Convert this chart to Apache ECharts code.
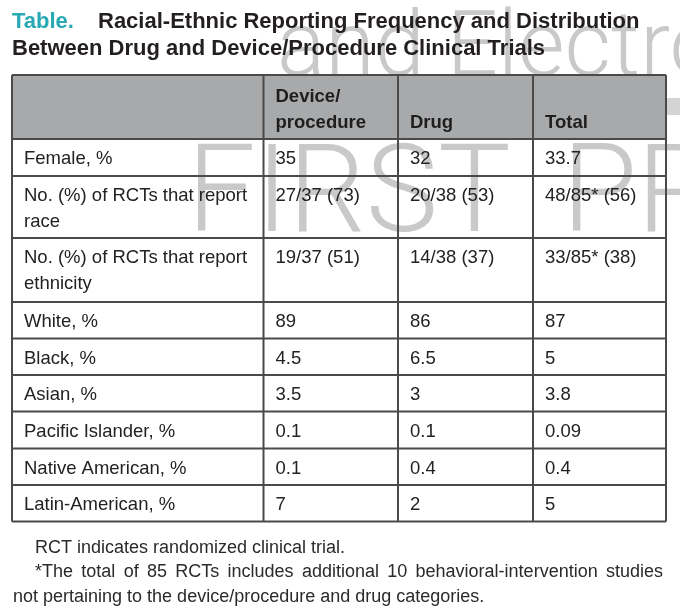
<!DOCTYPE html>
<html>
<head>
<meta charset="utf-8">
<title>Racial-Ethnic Reporting Table</title>
<script src="https://cdn.jsdelivr.net/npm/echarts@6/dist/echarts.min.js"></script>
<style>
  html, body { margin: 0; padding: 0; background: #fff; }
  #main { width: 680px; height: 611px; }
</style>
</head>
<body>
<div id="main"></div>
<script>
// table content
var columns = ['', 'Device/\nprocedure', '\nDrug', '\nTotal'];
var rowLabels = [
  'Female, %',
  'No. (%) of RCTs that report\nrace',
  'No. (%) of RCTs that report\nethnicity',
  'White, %',
  'Black, %',
  'Asian, %',
  'Pacific Islander, %',
  'Native American, %',
  'Latin-American, %'
];
var deviceValues = ['35', '27/37 (73)', '19/37 (51)', '89', '4.5', '3.5', '0.1', '0.1', '7'];
var drugValues = ['32', '20/38 (53)', '14/38 (37)', '86', '6.5', '3', '0.1', '0.4', '2'];
var totalValues = ['33.7', '48/85* (56)', '33/85* (38)', '87', '5', '3.8', '0.09', '0.4', '5'];
var titleLabel = 'Table.';
var titleLines = ['Racial-Ethnic Reporting Frequency and Distribution', 'Between Drug and Device/Procedure Clinical Trials'];
var footnotes = [
  'RCT indicates randomized clinical trial.',
  '*The total of 85 RCTs includes additional 10 behavioral-intervention studies',
  'not pertaining to the device/procedure and drug categories.'
];

// layout
var colEdges = [12, 263.5, 398, 533, 666];
var rowEdges = [75, 139, 176, 238, 302, 338.5, 375, 411.5, 448.5, 485, 521.5];
var BODY_FONT = '"Liberation Sans", Arial, sans-serif';
var MARK_FONT = 'Roboto, "Open Sans", sans-serif';
var LINE_COLOR = '#4a4a4a';
var TEXT_COLOR = '#222';
var MARK_COLOR = '#c9c9c9';

var chart = echarts.init(document.getElementById('main'), null, { renderer: 'canvas' });

var els = [];

/* watermark (proof stamp behind the table) */
els.push({
  type: 'text', z: 1, x: 277, y: 52,
  style: { text: 'and Electronic', font: '300 90px ' + MARK_FONT, fill: MARK_COLOR, verticalAlign: 'middle' }
});
els.push({
  type: 'text', z: 1, x: 187, y: 200,
  style: { text: 'FIRST', font: '300 122px ' + MARK_FONT, fill: MARK_COLOR, verticalAlign: 'middle' }
});
els.push({
  type: 'text', z: 1, x: 562, y: 200,
  style: { text: 'PROOF', font: '300 122px ' + MARK_FONT, fill: MARK_COLOR, verticalAlign: 'middle' }
});
els.push({
  type: 'rect', z: 1,
  shape: { x: 667, y: 98, width: 13, height: 17 },
  style: { fill: '#d4d4d4' }
});

/* title */
els.push({
  type: 'text', z: 5, x: 12, y: 22,
  style: { text: titleLabel, font: 'bold 22px ' + BODY_FONT, fill: '#29a9b3', verticalAlign: 'middle' }
});
els.push({
  type: 'text', z: 5, x: 98, y: 22,
  style: { text: titleLines[0], font: 'bold 22px ' + BODY_FONT, fill: '#231f20', verticalAlign: 'middle' }
});
els.push({
  type: 'text', z: 5, x: 12, y: 49,
  style: { text: titleLines[1], font: 'bold 22px ' + BODY_FONT, fill: '#231f20', verticalAlign: 'middle' }
});

/* header background */
els.push({
  type: 'rect', z: 2,
  shape: { x: colEdges[0], y: rowEdges[0], width: colEdges[4] - colEdges[0], height: rowEdges[1] - rowEdges[0] },
  style: { fill: '#a8a9ab' }
});

/* grid lines */
for (var r = 0; r < rowEdges.length; r++) {
  els.push({
    type: 'line', z: 3,
    shape: { x1: colEdges[0], y1: rowEdges[r], x2: colEdges[4], y2: rowEdges[r] },
    style: { stroke: LINE_COLOR, lineWidth: 2 }
  });
}
for (var c = 0; c < colEdges.length; c++) {
  els.push({
    type: 'line', z: 3,
    shape: { x1: colEdges[c], y1: rowEdges[0], x2: colEdges[c], y2: rowEdges[rowEdges.length - 1] },
    style: { stroke: LINE_COLOR, lineWidth: 2 }
  });
}

/* header text */
for (var c = 1; c < columns.length; c++) {
  els.push({
    type: 'text', z: 5, x: colEdges[c] + 12, y: rowEdges[0] + 9,
    style: { text: columns[c], font: 'bold 18.5px ' + BODY_FONT, fill: '#1e1e1e', lineHeight: 26, verticalAlign: 'top' }
  });
}

/* body cells */
var bodyCols = [rowLabels, deviceValues, drugValues, totalValues];
for (var r = 0; r < rowLabels.length; r++) {
  for (var c = 0; c < bodyCols.length; c++) {
    els.push({
      type: 'text', z: 5, x: colEdges[c] + 12, y: rowEdges[r + 1] + 7,
      style: { text: bodyCols[c][r], font: '18.5px ' + BODY_FONT, fill: TEXT_COLOR, lineHeight: 26, verticalAlign: 'top' }
    });
  }
}

/* footnotes, second line justified */
var ctx = document.createElement('canvas').getContext('2d');
var FOOT_FONT = '18px ' + BODY_FONT;
ctx.font = FOOT_FONT;
els.push({
  type: 'text', z: 5, x: 35, y: 548,
  style: { text: footnotes[0], font: FOOT_FONT, fill: '#2a2a2a', verticalAlign: 'middle' }
});
var words = footnotes[1].split(' ');
var wordsWidth = 0;
words.forEach(function (w) { wordsWidth += ctx.measureText(w).width; });
var gap = (663 - 35 - wordsWidth) / (words.length - 1);
var wx = 35;
words.forEach(function (w) {
  els.push({
    type: 'text', z: 5, x: wx, y: 572,
    style: { text: w, font: FOOT_FONT, fill: '#2a2a2a', verticalAlign: 'middle' }
  });
  wx += ctx.measureText(w).width + gap;
});
els.push({
  type: 'text', z: 5, x: 13, y: 597,
  style: { text: footnotes[2], font: FOOT_FONT, fill: '#2a2a2a', verticalAlign: 'middle' }
});

chart.setOption({
  backgroundColor: '#fff',
  animation: false,
  graphic: { elements: els }
});
</script>
</body>
</html>
